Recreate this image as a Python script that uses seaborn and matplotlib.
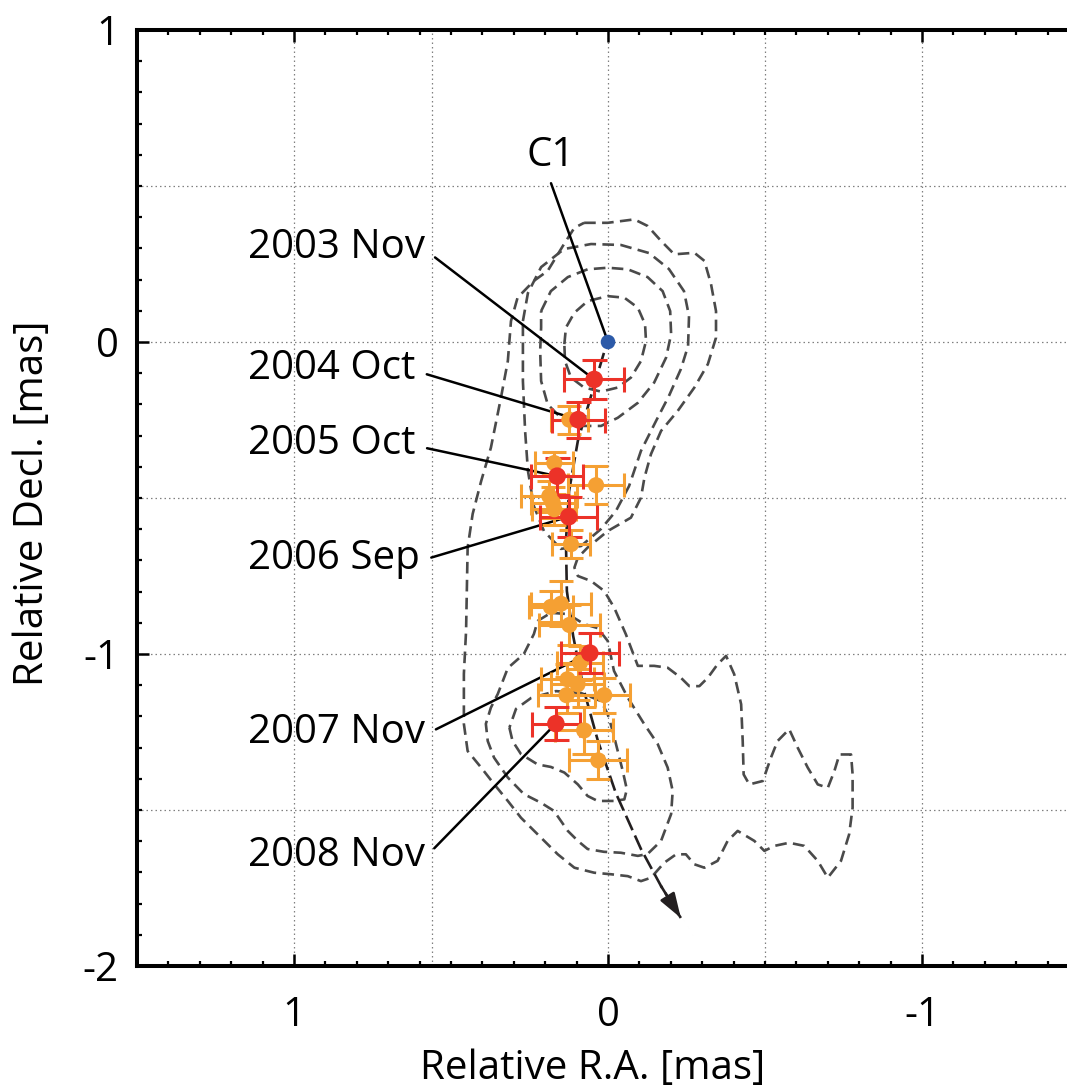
import matplotlib
matplotlib.use("Agg")
import matplotlib.pyplot as plt
import pandas as pd
import seaborn as sns

# ---------------------------------------------------------------- data
# Core C1 (reference position)
core_x = [0.0]
core_y = [0.0]

# Epoch positions of the moving component (red)
epoch_labels = ["2003 Nov", "2004 Oct", "2005 Oct", "2006 Sep", "2007 Nov", "2008 Nov"]
epoch_x = [0.044, 0.095, 0.162, 0.125, 0.058, 0.166]
epoch_y = [-0.120, -0.249, -0.430, -0.560, -0.997, -1.223]
epoch_xerr = [0.095, 0.084, 0.082, 0.090, 0.092, 0.077]
epoch_yerr = [0.062, 0.058, 0.059, 0.064, 0.063, 0.053]

# Additional epochs (orange)
extra_x = [0.123, 0.171, 0.038, 0.187, 0.176, 0.171, 0.118, 0.182, 0.150, 0.123,
           0.089, 0.129, 0.097, 0.132, 0.012, 0.076, 0.031]
extra_y = [-0.249, -0.388, -0.459, -0.494, -0.515, -0.536, -0.648, -0.849, -0.839, -0.907,
           -1.028, -1.081, -1.097, -1.132, -1.132, -1.245, -1.341]
extra_xerr = [0.060, 0.060, 0.088, 0.089, 0.070, 0.070, 0.061, 0.070, 0.096, 0.096,
              0.074, 0.085, 0.085, 0.090, 0.082, 0.093, 0.093]
extra_yerr = [0.045, 0.037, 0.060, 0.050, 0.050, 0.050, 0.045, 0.050, 0.072, 0.064,
              0.055, 0.050, 0.050, 0.058, 0.056, 0.075, 0.061]

# Expected track of the component
track_x = [0.013, 0.054, 0.096, 0.124, 0.134, 0.131, 0.111, 0.076, 0.032, -0.025,
           -0.105, -0.169, -0.232]
track_y = [-0.035, -0.173, -0.317, -0.478, -0.638, -0.798, -0.942, -1.119, -1.279, -1.446,
           -1.625, -1.744, -1.846]

# Intensity contours (traced levels)
ring1_x = [0.139, 0.134, 0.107, 0.065, 0.001, -0.052, -0.095, -0.118, -0.121, -0.105,
           -0.073, -0.031, 0.022, 0.076, 0.118, 0.137, 0.139]
ring1_y = [-0.007, 0.046, 0.094, 0.131, 0.147, 0.142, 0.110, 0.057, 0.003, -0.061,
           -0.114, -0.146, -0.159, -0.146, -0.114, -0.061, -0.007]

ring2_x = [0.213, 0.182, 0.128, 0.065, 0.001, -0.063, -0.126, -0.174, -0.198, -0.201,
           -0.185, -0.147, -0.095, -0.031, 0.022, 0.086, 0.150, 0.192, 0.213, 0.216,
           0.213, 0.213]
ring2_y = [0.099, 0.163, 0.208, 0.233, 0.238, 0.233, 0.208, 0.163, 0.099, 0.025,
           -0.050, -0.130, -0.195, -0.243, -0.269, -0.269, -0.243, -0.200, -0.125, -0.029,
           0.046, 0.099]

ring3_x = [0.271, 0.255, 0.213, 0.140, 0.054, -0.041, -0.131, -0.194, -0.242, -0.258,
           -0.255, -0.232, -0.194, -0.153, -0.105, -0.067, -0.025, 0.022, 0.086, 0.150,
           0.204, 0.236, 0.255, 0.264, 0.271, 0.271]
ring3_y = [0.067, 0.157, 0.240, 0.298, 0.314, 0.311, 0.285, 0.234, 0.163, 0.083,
           -0.013, -0.087, -0.173, -0.253, -0.349, -0.462, -0.542, -0.599, -0.654, -0.663,
           -0.606, -0.526, -0.413, -0.285, -0.125, 0.067]

outer_x = [0.076, 0.001, -0.084, -0.126, -0.169, -0.211, -0.275, -0.307, -0.328, -0.344,
           -0.344, -0.318, -0.275, -0.222, -0.169, -0.137, -0.116, -0.105, -0.073, 0.001,
           0.065, 0.096, 0.107, 0.096, 0.054, 0.012, -0.020, -0.057, -0.095, -0.147,
           -0.190, -0.232, -0.259, -0.291, -0.318, -0.349, -0.376, -0.402, -0.424, -0.429,
           -0.432, -0.450, -0.493, -0.519, -0.540, -0.577, -0.604, -0.636, -0.668, -0.700,
           -0.721, -0.737, -0.774, -0.779, -0.779, -0.768, -0.742, -0.700, -0.668, -0.625,
           -0.577, -0.530, -0.498, -0.466, -0.413, -0.381, -0.349, -0.307, -0.275, -0.248,
           -0.217, -0.179, -0.137, -0.105, -0.063, -0.010, 0.044, 0.107, 0.160, 0.213,
           0.277, 0.319, 0.362, 0.404, 0.447, 0.459, 0.459, 0.452, 0.447, 0.431,
           0.404, 0.373, 0.341, 0.319, 0.309, 0.288, 0.236, 0.192, 0.140, 0.107, 0.076]
outer_y = [0.382, 0.382, 0.393, 0.372, 0.324, 0.281, 0.286, 0.260, 0.186, 0.099,
           0.014, -0.071, -0.146, -0.221, -0.285, -0.359, -0.435, -0.499, -0.563, -0.606,
           -0.659, -0.691, -0.723, -0.750, -0.766, -0.798, -0.852, -0.937, -1.038, -1.038,
           -1.044, -1.076, -1.103, -1.103, -1.076, -1.033, -1.006, -1.065, -1.161, -1.279,
           -1.386, -1.418, -1.407, -1.332, -1.279, -1.241, -1.300, -1.364, -1.418, -1.429,
           -1.375, -1.322, -1.322, -1.386, -1.493, -1.578, -1.663, -1.717, -1.663, -1.615,
           -1.605, -1.615, -1.631, -1.599, -1.567, -1.599, -1.663, -1.685, -1.674, -1.642,
           -1.642, -1.669, -1.717, -1.728, -1.712, -1.706, -1.701, -1.685, -1.642, -1.589,
           -1.525, -1.471, -1.418, -1.364, -1.311, -1.224, -1.064, -0.926, -0.659, -0.551,
           -0.446, -0.339, -0.179, -0.061, 0.067, 0.142, 0.196, 0.228, 0.314, 0.366, 0.382]

low2_x = [0.224, 0.182, 0.128, 0.076, 0.033, 0.001, -0.019, -0.063, -0.115, -0.158,
          -0.190, -0.206, -0.201, -0.169, -0.126, -0.095, -0.041, 0.013, 0.065, 0.096,
          0.128, 0.172, 0.213, 0.268, 0.319, 0.363, 0.383, 0.389, 0.373, 0.351,
          0.319, 0.268, 0.236, 0.224]
low2_y = [-0.894, -0.868, -0.872, -0.904, -0.917, -0.958, -1.054, -1.140, -1.224, -1.288,
          -1.364, -1.439, -1.513, -1.599, -1.641, -1.647, -1.637, -1.634, -1.625, -1.599,
          -1.567, -1.503, -1.477, -1.449, -1.396, -1.332, -1.279, -1.224, -1.172, -1.128,
          -1.045, -1.000, -0.936, -0.894]

low1_x = [0.314, 0.304, 0.277, 0.224, 0.182, 0.139, 0.096, 0.065, 0.033, -0.020,
          -0.052, -0.060, -0.047, -0.031, -0.015, 0.001, 0.022, 0.086, 0.166, 0.245,
          0.293, 0.314]
low1_y = [-1.236, -1.279, -1.321, -1.354, -1.362, -1.380, -1.418, -1.455, -1.471, -1.471,
          -1.466, -1.434, -1.375, -1.311, -1.247, -1.193, -1.151, -1.125, -1.119, -1.141,
          -1.176, -1.236]

# ---------------------------------------------------------------- style
RED = "#EC3228"
ORANGE = "#F5A033"
BLUE = "#2C5AA8"
CONTOUR = "#4A4A4A"
INK = "#231F20"

sns.set_theme(style="white")
plt.rcParams["font.family"] = ["Open Sans", "DejaVu Sans"]
plt.rcParams["axes.unicode_minus"] = False
for key in ("text.color", "axes.labelcolor", "xtick.color", "ytick.color",
            "xtick.labelcolor", "ytick.labelcolor", "axes.edgecolor"):
    plt.rcParams[key] = "black"
FS = 29

fig = plt.figure(figsize=(10.67, 10.88), dpi=100)
ax = fig.add_axes([137 / 1067, 122 / 1088, 942 / 1067, 936 / 1088])
ax.set_facecolor("white")

# dotted reference grid
for gx in (1.0, 0.56, 0.0, -0.5, -1.0):
    ax.axvline(gx, color="#808080", lw=0.9, ls=(0, (1.2, 2.4)), zorder=0.5)
for gy in (0.5, 0.0, -0.5, -1.0, -1.5):
    ax.axhline(gy, color="#808080", lw=0.9, ls=(0, (1.2, 2.4)), zorder=0.5)

# contours
contours = pd.concat([
    pd.DataFrame({"x": cx, "y": cy, "level": name})
    for name, cx, cy in [("ring1", ring1_x, ring1_y), ("ring2", ring2_x, ring2_y),
                         ("ring3", ring3_x, ring3_y), ("outer", outer_x, outer_y),
                         ("low2", low2_x, low2_y), ("low1", low1_x, low1_y)]
], ignore_index=True)
for name, grp in contours.groupby("level", sort=False):
    ax.plot(grp["x"], grp["y"], color=CONTOUR, lw=1.9, dashes=(4.4, 2.4), zorder=1)

# expected track with arrow head
ax.plot(track_x, track_y, color=INK, lw=1.9, dashes=(6.0, 2.2), zorder=2)
ax.annotate("", xy=(track_x[-1], track_y[-1]), xytext=(track_x[-2], track_y[-2]),
            arrowprops=dict(arrowstyle="-|>,head_length=0.75,head_width=0.25",
                            color=INK, lw=1.9, shrinkA=0, shrinkB=0,
                            mutation_scale=20), zorder=2)

# leader lines + epoch labels
label_text_x = 1.146
label_baseline_y = [0.269, -0.119, -0.359, -0.728, -1.285, -1.679]
for lab, px_, py_, ty in zip(epoch_labels, epoch_x, epoch_y, label_baseline_y):
    ax.annotate(lab, xy=(px_, py_), xytext=(label_text_x, ty), textcoords="data",
                fontsize=FS, ha="left", va="baseline", color="black",
                arrowprops=dict(arrowstyle="-", color="black", lw=1.8,
                                shrinkA=6, shrinkB=0, relpos=(1.0, 0.45)),
                zorder=2.5)
ax.annotate("C1", xy=(core_x[0], core_y[0]), xytext=(0.182, 0.564), textcoords="data",
            fontsize=FS, ha="center", va="baseline", color="black",
            arrowprops=dict(arrowstyle="-", color="black", lw=1.8,
                            shrinkA=3, shrinkB=0, relpos=(0.45, 0.0)),
            zorder=2.5)

# error bars
ax.errorbar(extra_x, extra_y, xerr=extra_xerr, yerr=extra_yerr, fmt="none",
            ecolor=ORANGE, elinewidth=2.2, capsize=8.5, capthick=2.2, zorder=3)
ax.errorbar(epoch_x, epoch_y, xerr=epoch_xerr, yerr=epoch_yerr, fmt="none",
            ecolor=RED, elinewidth=2.2, capsize=9, capthick=2.2, zorder=4)

points = pd.DataFrame({
    "x": extra_x + epoch_x + core_x,
    "y": extra_y + epoch_y + core_y,
    "kind": ["extra"] * len(extra_x) + ["epoch"] * len(epoch_x) + ["core"],
})
sns.scatterplot(data=points, x="x", y="y", hue="kind", size="kind",
                palette={"extra": ORANGE, "epoch": RED, "core": BLUE},
                sizes={"extra": 135, "epoch": 160, "core": 110},
                edgecolor="none", linewidth=0, legend=False, ax=ax, zorder=5)

# axes
ax.set_xlim(1.5, -1.5)
ax.set_ylim(-2.0, 1.0)
ax.set_xticks([1, 0, -1])
ax.set_xticklabels(["1", "0", "-1"])
ax.set_yticks([1, 0, -1, -2])
ax.set_yticklabels(["1", "0", "-1", "-2"])
ax.set_xticks([v / 10 for v in range(-15, 16)], minor=True)
ax.set_yticks([v / 10 for v in range(-20, 11)], minor=True)
ax.tick_params(which="both", direction="in", top=True, right=True, bottom=True, left=True,
               color="black", labelcolor="black", labelsize=FS)
ax.tick_params(which="major", length=8.6, width=1.8)
ax.tick_params(which="minor", length=3.8, width=1.6)
ax.tick_params(axis="x", which="major", pad=21)
ax.tick_params(axis="y", which="major", pad=13)
for sp in ax.spines.values():
    sp.set_linewidth(2.9)
    sp.set_color("black")

ax.set_xlabel("Relative R.A. [mas]", fontsize=FS, va="baseline", color="black")
ax.xaxis.set_label_coords((593 - 137) / 942, (966 - 1079) / 936)
ax.set_ylabel("Relative Decl. [mas]", fontsize=FS, va="center", color="black")
ax.yaxis.set_label_coords((33 - 137) / 942, 0.494)

fig.savefig("out.png", dpi=100, facecolor="white")
